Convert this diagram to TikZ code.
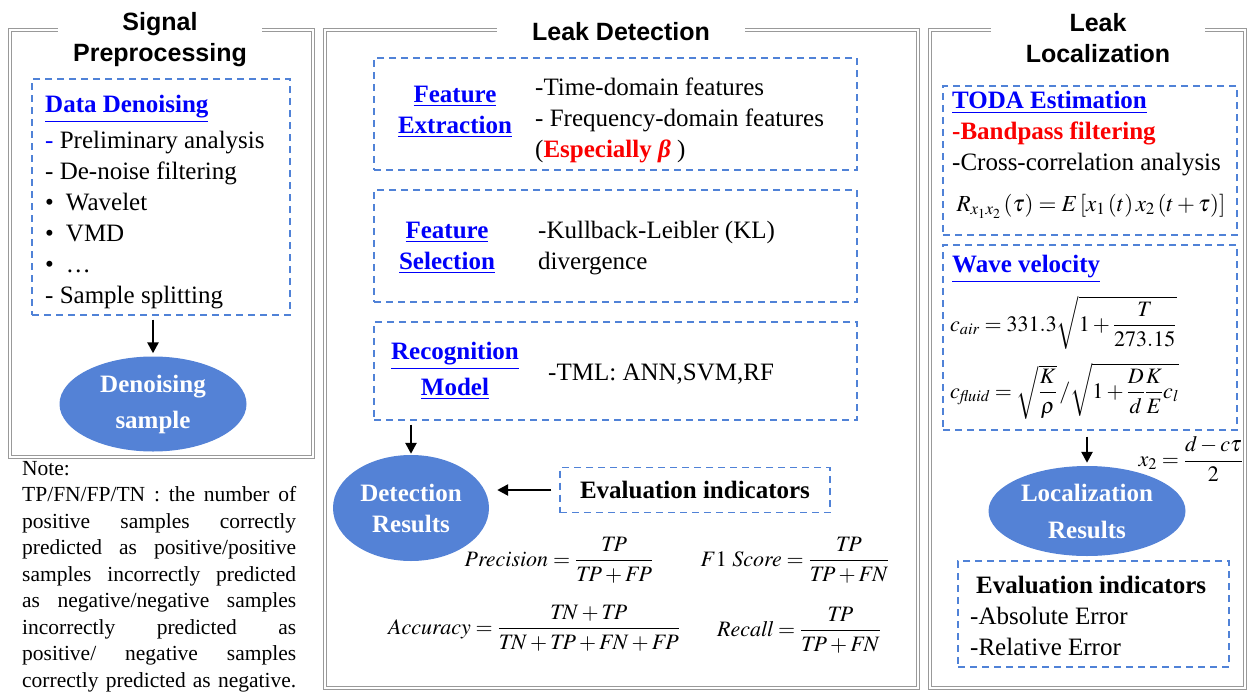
\documentclass[tikz,border=0pt]{standalone}
\usepackage{amsmath}
\usepackage{mathptmx}
\usepackage[no-math]{fontspec}
\setmainfont{Liberation Serif}
\newfontfamily\titlefont{Liberation Sans}
\usepackage{xcolor}
\usepackage{tikz}
\usetikzlibrary{shapes,arrows,arrows.meta,positioning,calc,shapes.geometric}
\definecolor{dashblue}{RGB}{80, 130, 215}
\definecolor{ellblue}{RGB}{84, 130, 214}
\definecolor{headblue}{RGB}{0, 0, 250}
\definecolor{alertred}{RGB}{250, 0, 0}
\newcommand{\uhead}[1]{\textcolor{headblue}{\textbf{\underline{#1}}}}

\begin{document}
\begin{tikzpicture}[x=1pt, y=-1pt,
        panel/.style={draw=black!40, double=white, double distance=1.5pt, line width=1pt},
        paneltitle/.style={fill=white, font=\titlefont\bfseries\fontsize{25}{31}\selectfont, align=center, inner ysep=1pt},
        dashbox/.style={draw=dashblue, line width=1.3pt, dash pattern=on 7pt off 5pt, inner sep=0pt, font=\fontsize{25}{31}\selectfont},
        body/.style={font=\fontsize{25}{31}\selectfont, align=left, inner sep=0pt},
        heading/.style={font=\fontsize{25}{31}\selectfont\bfseries, text=headblue, align=center, inner sep=0pt},
        result/.style={ellipse, fill=ellblue, text=white, font=\fontsize{25}{36}\selectfont\bfseries, align=center, inner sep=0pt},
        formula/.style={font=\fontsize{22}{26}\selectfont, inner sep=0pt},
        flow/.style={-{Triangle[length=11pt,width=11pt]}, line width=2.5pt}
    ]
        \useasboundingbox (0,0) rectangle (1248,691);

        % Panels
        \draw[panel] (10,30) rectangle (313,457);
        \draw[panel] (325,30) rectangle (918,688);
        \draw[panel] (930,30) rectangle (1245,688);
        \node[paneltitle, inner xsep=15pt] (pretitle) at (160,40) {Signal\\Preprocessing};
        \node[paneltitle, inner xsep=35pt] (dettitle) at (621,32) {Leak Detection};
        \node[paneltitle, inner xsep=35pt] (loctitle) at (1098,38) {Leak\\Localization};

        % Signal preprocessing
        \node[dashbox, minimum width=258pt, minimum height=236pt] (denbox) at (161,197) {};
        \node[body, anchor=north west] (dentext) at (45,95) {\uhead{Data Denoising}\\[5pt]
            \textcolor{headblue}{-} Preliminary analysis\\
            - De-noise filtering\\
            \textbullet\hspace{12pt}Wavelet\\
            \textbullet\hspace{12pt}VMD\\
            \textbullet\hspace{12pt}\dots\\
            - Sample splitting};
        \node[result, minimum width=187pt, minimum height=95pt] (densample) at (153,404) {Denoising\\sample};

        % Note
        \node[anchor=north west, text width=274pt, align=justify, inner sep=0pt,
            font=\fontsize{21.5}{26.5}\selectfont] (note) at (22,461) {\tolerance=9999\parfillskip=0pt
            Note:\newline
            TP/FN/FP/TN : the number of\linebreak
            positive samples correctly\linebreak
            predicted as positive/positive\linebreak
            samples incorrectly predicted\linebreak
            as negative/negative samples\linebreak
            incorrectly predicted as\linebreak
            positive/ negative samples\linebreak
            correctly predicted as negative.\par};

        % Leak detection
        \node[dashbox, minimum width=483pt, minimum height=112pt] (extbox) at (615.5,114) {};
        \node[heading] (exthead) at (455,112) {\underline{Feature}\\\underline{Extraction}};
        \node[body, anchor=west] (exttext) at (535,120) {-Time-domain features\\
            - Frequency-domain features\\
            (\textcolor{alertred}{\textbf{Especially \textit{β}}} )};

        \node[dashbox, minimum width=483pt, minimum height=112pt] (selbox) at (615.5,246) {};
        \node[heading] (selhead) at (447,248) {\underline{Feature}\\\underline{Selection}};
        \node[body, anchor=west] (seltext) at (538,248) {-Kullback-Leibler (KL)\\divergence};

        \node[dashbox, minimum width=483pt, minimum height=98pt] (recbox) at (615.5,371) {};
        \node[heading, font=\fontsize{25}{36}\selectfont\bfseries] (rechead) at (455,371) {\underline{Recognition}\\\underline{Model}};
        \node[body, anchor=west] (rectext) at (548,374) {-TML: ANN,SVM,RF};

        \node[result, minimum width=156pt, minimum height=106pt, font=\fontsize{25}{31}\selectfont\bfseries] (detres) at (411,508) {Detection\\Results};
        \node[dashbox, minimum width=270pt, minimum height=45pt] (evalbox) at (695,490) {\textbf{Evaluation indicators}};

        \node[formula] (prec) at (559,560) {$\mathit{Precision}=\dfrac{\mathit{TP}}{\mathit{TP}+\mathit{FP}}$};
        \node[formula] (fone) at (795,560) {$F1\ \mathit{Score}=\dfrac{\mathit{TP}}{\mathit{TP}+\mathit{FN}}$};
        \node[formula] (acc) at (534,628) {$\mathit{Accuracy}=\dfrac{\mathit{TN}+\mathit{TP}}{\mathit{TN}+\mathit{TP}+\mathit{FN}+\mathit{FP}}$};
        \node[formula] (rec) at (799,630) {$\mathit{Recall}=\dfrac{\mathit{TP}}{\mathit{TP}+\mathit{FN}}$};

        % Leak localization
        \node[dashbox, minimum width=294pt, minimum height=149pt] (todabox) at (1090,160.5) {};
        \node[body, anchor=north west] (todatext) at (952,91) {\uhead{TODA Estimation}\\
            \textcolor{alertred}{\textbf{-Bandpass filtering}}\\
            -Cross-correlation analysis};
        \node[formula, font=\fontsize{23}{26}\selectfont] (corr) at (1091,206) {$R_{x_1x_2}\left(\tau\right)=E\left[x_1\left(t\right)x_2\left(t+\tau\right)\right]$};

        \node[dashbox, minimum width=294pt, minimum height=185pt] (wavebox) at (1090,337.5) {};
        \node[body, anchor=west] (wavehead) at (952,269) {\uhead{Wave velocity}};
        \node[formula, anchor=west] (cair) at (950,323) {$c_{\mathit{air}}=331.3\sqrt{1+\dfrac{T}{273.15}}$};
        \node[formula, anchor=west] (cfluid) at (950,391) {$c_{\mathit{fluid}}=\sqrt{\dfrac{K}{\rho}}\,/\sqrt{1+\dfrac{D}{d}\dfrac{K}{E}c_l}$};

        \node[formula, anchor=east] (xtwo) at (1243,459) {$x_2=\dfrac{d-c\tau}{2}$};
        \node[result, minimum width=197pt, minimum height=90pt, font=\fontsize{25}{37}\selectfont\bfseries] (locres) at (1087,511) {Localization\\Results};

        \node[dashbox, minimum width=271pt, minimum height=106pt] (errbox) at (1093.5,614) {};
        \node[body, anchor=west] (errtext) at (970,616) {\hspace{6pt}\textbf{Evaluation indicators}\\
            -Absolute Error\\
            -Relative Error};

        % Arrows
        \draw[flow, shorten <=4pt, shorten >=3pt] (denbox.south -| densample) -- (densample.north);
        \draw[flow, shorten <=4pt, shorten >=1pt] (recbox.south -| detres) -- (detres.north);
        \draw[flow, shorten <=8pt, shorten >=8pt] (evalbox.west) -- (evalbox.west -| detres.east);
        \draw[flow, shorten <=6pt, shorten >=3pt] (wavebox.south -| locres) -- (locres.north);
    \end{tikzpicture}
\end{document}
